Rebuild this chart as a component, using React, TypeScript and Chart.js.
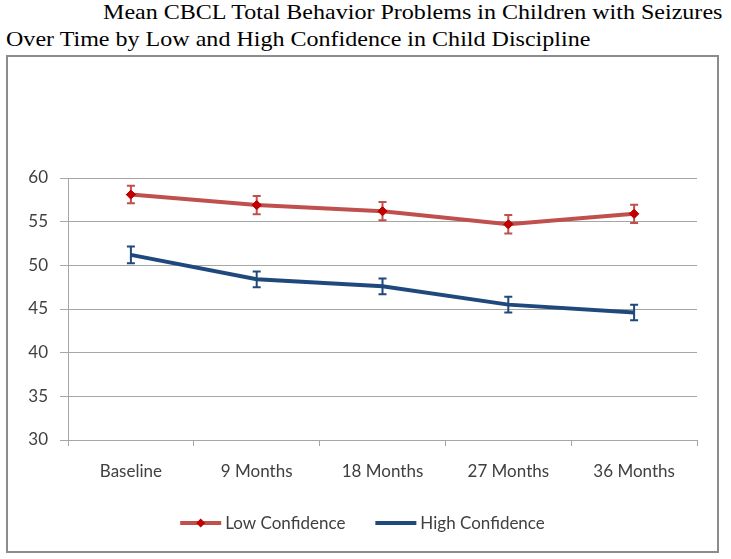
import React, { useEffect, useRef } from "react";
import { Chart, registerables } from "chart.js";

Chart.register(...registerables);

const categories = ["Baseline", "9 Months", "18 Months", "27 Months", "36 Months"];
const lowConfidence = [58.1, 56.9, 56.2, 54.7, 55.9];
const lowConfidenceErr = [1.0, 1.05, 1.05, 1.05, 1.05];
const highConfidence = [51.2, 48.4, 47.6, 45.5, 44.6];
const highConfidenceErr = [0.95, 0.9, 0.9, 0.9, 0.9];
const yTicks = [30, 35, 40, 45, 50, 55, 60];

const RED_LINE = "#C0504D";
const RED_MARK = "#C00000";
const BLUE_LINE = "#1F497D";
const TEXT = "#404040";
const GRID = "#A6A6A6";
const FONT = "Lato, 'Open Sans', sans-serif";

const errorBarPlugin = {
  id: "errorBars",
  afterDatasetsDraw(chart: any) {
    const ctx = chart.ctx;
    const yScale = chart.scales.y;
    chart.data.datasets.forEach((ds: any, di: number) => {
      const meta = chart.getDatasetMeta(di);
      const errs: number[] = ds.errors || [];
      ctx.save();
      ctx.strokeStyle = ds.errorColor || ds.borderColor;
      ctx.lineWidth = 2;
      meta.data.forEach((pt: any, i: number) => {
        const v = ds.data[i];
        const e = errs[i];
        if (v == null || e == null) return;
        const x = pt.x;
        const yTop = yScale.getPixelForValue(v + e);
        const yBot = yScale.getPixelForValue(v - e);
        ctx.beginPath();
        ctx.moveTo(x, yTop);
        ctx.lineTo(x, yBot);
        ctx.moveTo(x - 4, yTop);
        ctx.lineTo(x + 4, yTop);
        ctx.moveTo(x - 4, yBot);
        ctx.lineTo(x + 4, yBot);
        ctx.stroke();
      });
      ctx.restore();
    });
    chart.data.datasets.forEach((ds: any, di: number) => {
      const meta = chart.getDatasetMeta(di);
      meta.data.forEach((pt: any) => pt.draw(ctx, chart.chartArea));
    });
  },
};

const legendPlugin = {
  id: "customLegend",
  afterDraw(chart: any) {
    const ctx = chart.ctx;
    const items = chart.data.datasets.map((ds: any) => ({
      label: ds.label,
      color: ds.borderColor,
      marker: ds.pointRadius > 0 ? ds.pointBackgroundColor : null,
    }));
    ctx.save();
    ctx.font = `17px ${FONT}`;
    const lineLen = 41;
    const gapText = 4;
    const gapItems = 30;
    const widths = items.map((it: any) => lineLen + gapText + ctx.measureText(it.label).width);
    const total = widths.reduce((a: number, b: number) => a + b, 0) + gapItems * (items.length - 1);
    let x = chart.width / 2 - total / 2;
    const y = 466;
    items.forEach((it: any, i: number) => {
      ctx.strokeStyle = it.color;
      ctx.lineWidth = 4;
      ctx.beginPath();
      ctx.moveTo(x, y);
      ctx.lineTo(x + lineLen, y);
      ctx.stroke();
      if (it.marker) {
        const cx = x + lineLen / 2;
        ctx.fillStyle = it.marker;
        ctx.beginPath();
        ctx.moveTo(cx, y - 4.5);
        ctx.lineTo(cx + 4.5, y);
        ctx.lineTo(cx, y + 4.5);
        ctx.lineTo(cx - 4.5, y);
        ctx.closePath();
        ctx.fill();
      }
      ctx.fillStyle = TEXT;
      ctx.textBaseline = "middle";
      ctx.textAlign = "left";
      ctx.fillText(it.label, x + lineLen + gapText, y + 1);
      x += widths[i] + gapItems;
    });
    ctx.restore();
  },
};

function ChartBox() {
  const ref = useRef<HTMLCanvasElement | null>(null);
  useEffect(() => {
    if (!ref.current) return;
    const chart = new Chart(ref.current, {
      type: "line",
      data: {
        labels: categories,
        datasets: [
          {
            label: "Low Confidence",
            data: lowConfidence,
            errors: lowConfidenceErr,
            borderColor: RED_LINE,
            backgroundColor: RED_LINE,
            borderWidth: 4,
            pointStyle: "rectRot",
            pointRadius: 4.5,
            pointHoverRadius: 4.5,
            pointBackgroundColor: RED_MARK,
            pointBorderColor: RED_MARK,
            pointBorderWidth: 1,
            tension: 0,
          } as any,
          {
            label: "High Confidence",
            data: highConfidence,
            errors: highConfidenceErr,
            borderColor: BLUE_LINE,
            backgroundColor: BLUE_LINE,
            borderWidth: 4,
            pointRadius: 0,
            pointHoverRadius: 0,
            tension: 0,
          } as any,
        ],
      },
      options: {
        responsive: false,
        animation: false,
        events: [],
        layout: { padding: { top: 121, right: 20, left: 0, bottom: 71 } },
        plugins: {
          legend: { display: false },
          title: { display: false },
          tooltip: { enabled: false },
        },
        scales: {
          x: {
            offset: true,
            grid: {
              offset: true,
              drawOnChartArea: false,
              drawTicks: true,
              tickLength: 6,
              color: GRID,
            },
            border: { color: GRID, width: 1 },
            ticks: {
              color: TEXT,
              font: { family: FONT, size: 17 },
              padding: 15,
              maxRotation: 0,
            },
            afterFit: (s: any) => {
              s.height = 40;
            },
          },
          y: {
            min: 30,
            max: 60,
            afterBuildTicks: (s: any) => {
              s.ticks = yTicks.map((v) => ({ value: v }));
            },
            grid: { color: GRID, tickLength: 8, drawTicks: true },
            border: { color: GRID, width: 1 },
            ticks: {
              color: TEXT,
              font: { family: FONT, size: 17 },
              padding: 12,
            },
            afterFit: (s: any) => {
              s.width = 60;
            },
          },
        },
      },
      plugins: [errorBarPlugin, legendPlugin],
    } as any);
    return () => chart.destroy();
  }, []);
  return <canvas ref={ref} width={709} height={494} style={{ display: "block" }} />;
}

const titleLine: React.CSSProperties = {
  position: "absolute",
  fontSize: 21,
  lineHeight: "21px",
  whiteSpace: "nowrap",
  color: "#000",
  transform: "scaleX(1.145)",
  transformOrigin: "left center",
};

export default function App() {
  return (
    <div
      style={{
        position: "absolute",
        left: 0,
        top: 0,
        width: 731,
        height: 559,
        background: "#fff",
        overflow: "hidden",
        fontFamily: "'Liberation Serif', 'Times New Roman', serif",
      }}
    >
      <div style={{ ...titleLine, left: 103, top: 2 }}>
        Mean CBCL Total Behavior Problems in Children with Seizures
      </div>
      <div style={{ ...titleLine, left: 6, top: 29 }}>
        Over Time by Low and High Confidence in Child Discipline
      </div>
      <div
        style={{
          position: "absolute",
          left: 6,
          top: 55,
          width: 709,
          height: 494,
          border: "2px solid #8C8C8C",
        }}
      >
        <ChartBox />
      </div>
    </div>
  );
}
